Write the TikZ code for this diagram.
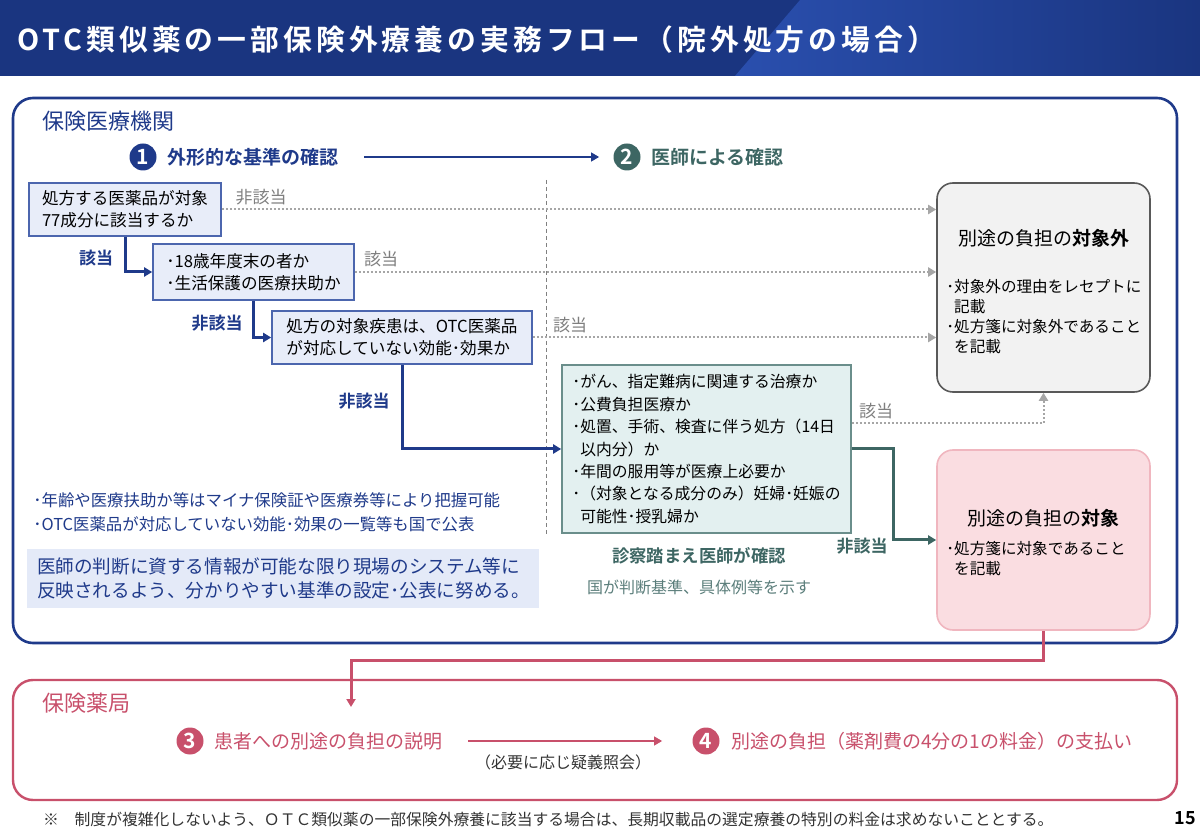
\documentclass[tikz,border=0pt]{standalone}
\usepackage{fontspec}
\setmainfont{Noto Sans CJK JP}[BoldFont={Noto Sans CJK JP Bold}]
\usetikzlibrary{arrows.meta,calc}

\definecolor{navy}{HTML}{1F3A8A}
\definecolor{barblue}{HTML}{1A3580}
\definecolor{barlight}{HTML}{2A4FAE}
\definecolor{boxfill}{HTML}{E8EDF9}
\definecolor{boxline}{HTML}{4C66AE}
\definecolor{teal}{HTML}{3D6663}
\definecolor{tealfill}{HTML}{E3F0F0}
\definecolor{tealline}{HTML}{6A8E8B}
\definecolor{dotgray}{HTML}{A6A6A6}
\definecolor{labgray}{HTML}{7F7F7F}
\definecolor{pink}{HTML}{C8506B}
\definecolor{pinkfill}{HTML}{FADDE1}
\definecolor{pinkline}{HTML}{F0B6BF}
\definecolor{notefill}{HTML}{E4EAF8}

\begin{document}
\begin{tikzpicture}[x=0.5pt,y=-0.5pt,>={Triangle[length=4pt,width=4.5pt]},
  qbox/.style={draw=boxline,fill=boxfill,line width=0.8pt,align=left,inner xsep=6pt,
    font=\fontsize{8.3}{11}\selectfont},
  numc/.style={circle,fill=#1,text=white,inner sep=0pt,minimum size=13.5pt,
    font=\bfseries\fontsize{10.5}{10}\selectfont},
  yes/.style={draw=navy,line width=1.5pt,->},
  skip/.style={draw=dotgray,line width=1pt,dash pattern=on 1pt off 1pt,->,
    >={Triangle[length=4pt,width=4.5pt]}},
  navylab/.style={text=navy,font=\bfseries\fontsize{8.5}{10}\selectfont},
  graylab/.style={text=labgray,font=\fontsize{8.5}{10}\selectfont}]
\useasboundingbox (0,0) rectangle (1200,839);

% title bar
\fill[barblue] (0,0) rectangle (1200,76);
\shade[left color=barlight,right color=barblue] (800,0)--(1200,0)--(1200,76)--(735,76)--cycle;
\node[anchor=west,text=white,font=\bfseries\fontsize{14.4}{14}\selectfont\addfontfeature{LetterSpace=14}]
  (title) at (10,40) {OTC類似薬の一部保険外療養の実務フロー（院外処方の場合）};

% hospital
\draw[navy,line width=1.3pt,rounded corners=10pt] (13,98) rectangle (1177,643);
\node[anchor=west,text=navy,font=\fontsize{11}{11}\selectfont] (hosp) at (35,121) {保険医療機関};

\node[numc=navy] (c1) at (143,157) {1};
\node[anchor=west,text=navy,font=\bfseries\fontsize{9.5}{10}\selectfont] (s1) at (160,157) {外形的な基準の確認};
\node[numc=teal] (c2) at (627,157) {2};
\node[anchor=west,text=teal,font=\bfseries\fontsize{9.5}{10}\selectfont] (s2) at (644,157) {医師による確認};
\draw[navy,line width=0.6pt,->,shorten <=9.5pt,shorten >=7pt] (s1.east) -- (c2.west);

\draw[gray,line width=0.5pt,dash pattern=on 2pt off 1.5pt] (546,180) -- (546,535);

% questions
\node[qbox,minimum width=96pt,minimum height=26.5pt] (qa) at (125,209.5)
  {処方する医薬品が対象\\77成分に該当するか};
\node[qbox,minimum width=100.5pt,minimum height=28pt] (qb) at (253.5,272)
  {･18歳年度末の者か\\･生活保護の医療扶助か};
\node[qbox,minimum width=130pt,minimum height=26.5pt] (qc) at (402,337.5)
  {処方の対象疾患は、OTC医薬品\\が対応していない効能･効果か};
\node[qbox,draw=tealline,fill=tealfill,inner xsep=4pt,minimum width=144.5pt,minimum height=84pt,
  font=\fontsize{7.9}{11.2}\selectfont] (qd) at (706.5,449)
  {･がん、指定難病に関連する治療か\\･公費負担医療か\\･処置、手術、検査に伴う処方（14日\\\hphantom{･}以内分）か\\
   ･年間の服用等が医療上必要か\\･（対象となる成分のみ）妊婦･妊娠の\\\hphantom{･}可能性･授乳婦か};

% results
\node[draw=black!65,fill=black!5,line width=0.8pt,rounded corners=8pt,minimum width=106.5pt,
  minimum height=104.5pt] (out) at (1043.5,287.5) {};
\node[font=\fontsize{9.5}{10}\selectfont] at (1043.5,238) {別途の負担の{\bfseries 対象外}};
\node[anchor=north west,align=left,inner sep=0pt,font=\fontsize{7.8}{10}\selectfont] at (946,279)
  {･対象外の理由をレセプトに\\\hphantom{･}記載\\･処方箋に対象外であること\\\hphantom{･}を記載};
\node[draw=pinkline,fill=pinkfill,line width=0.8pt,rounded corners=8pt,minimum width=106.5pt,
  minimum height=90pt] (in) at (1043.5,540) {};
\node[font=\fontsize{9.5}{10}\selectfont] at (1043.5,518) {別途の負担の{\bfseries 対象}};
\node[anchor=north west,align=left,inner sep=0pt,font=\fontsize{7.8}{10}\selectfont] at (946,541)
  {･処方箋に対象であること\\\hphantom{･}を記載};

% flow
\draw[yes] (qa.south) |- (qb.west);
\draw[yes] (qb.south) |- (qc.west);
\draw[yes] (qc.south) |- (qd.west);
\draw[skip] (qa.east) -- (qa.east -| out.west);
\draw[skip] (qb.east) -- (qb.east -| out.west);
\draw[skip] (qc.east) -- (qc.east -| out.west);
\draw[skip] ($(qd.east)+(0,-26)$) -| (out.south);
\draw[draw=teal,line width=1.5pt,->] (qd.east) -- ++(42,0) |- (in.west);

\node[graylab] at (261,197) {非該当};
\node[navylab] at (96,258) {該当};
\node[graylab] at (381,259) {該当};
\node[navylab] at (217,323) {非該当};
\node[graylab] at (570,325) {該当};
\node[navylab] at (364,401) {非該当};
\node[graylab] at (876,411) {該当};
\node[text=teal,font=\bfseries\fontsize{8.5}{10}\selectfont] at (862,546) {非該当};

\node[text=teal,font=\bfseries\fontsize{8.7}{10}\selectfont] at (699,556) {診察踏まえ医師が確認};
\node[text=teal!85,font=\fontsize{8}{10}\selectfont] at (699,587) {国が判断基準、具体例等を示す};

% notes
\node[anchor=west,align=left,inner sep=0pt,text=navy,font=\fontsize{8.2}{12}\selectfont] at (33,512)
  {･年齢や医療扶助か等はマイナ保険証や医療券等により把握可能\\･OTC医薬品が対応していない効能･効果の一覧等も国で公表};
\node[fill=notefill,minimum width=256pt,minimum height=29.5pt,align=left,text=navy,
  text width=246pt,font=\fontsize{9.3}{12}\selectfont] (note) at (283,578.5)
  {医師の判断に資する情報が可能な限り現場のシステム等に\\反映されるよう、分かりやすい基準の設定･公表に努める。};

% pharmacy
\draw[pink,line width=1.2pt,rounded corners=10pt] (13,680) rectangle (1177,800);
\node[anchor=west,text=pink,font=\fontsize{11}{11}\selectfont] (phar) at (35,703) {保険薬局};
\coordinate (drop) at (351,707);
\draw[pink,line width=1.5pt,->] (in.south) -- ++(0,30) -| (drop);

\node[numc=pink] (c3) at (190,741) {3};
\node[anchor=west,text=pink,font=\fontsize{9.5}{10}\selectfont] (s3) at (207,741) {患者への別途の負担の説明};
\node[numc=pink] (c4) at (706,741) {4};
\node[anchor=west,text=pink,font=\fontsize{9.5}{10}\selectfont] (s4) at (724,741) {別途の負担（薬剤費の4分の1の料金）の支払い};
\draw[pink,line width=0.6pt,->,shorten <=9.5pt,shorten >=15pt] (s3.east) -- (c4.west);
\node[text=black!80,font=\fontsize{8}{10}\selectfont] at (563,762) {（必要に応じ疑義照会）};

% footer
\node[anchor=west,text=black!80,font=\fontsize{7.9}{10}\selectfont] at (36,820)
  {※　制度が複雑化しないよう、ＯＴＣ類似薬の一部保険外療養に該当する場合は、長期収載品の選定療養の特別の料金は求めないこととする。};
\node[font=\bfseries\fontsize{9}{10}\selectfont] at (1185,818) {15};
\end{tikzpicture}
\end{document}
